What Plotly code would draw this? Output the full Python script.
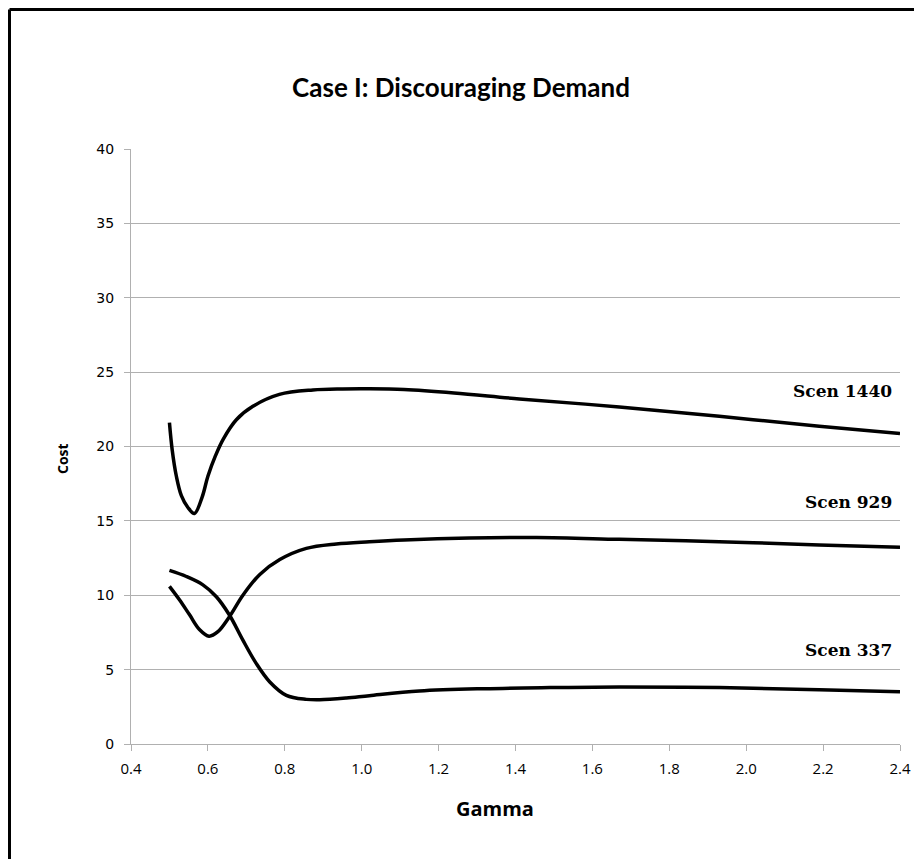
import plotly.graph_objects as go

# ---- data ----
scen1440_x = [0.50, 0.507, 0.518, 0.531, 0.548, 0.565, 0.585, 0.60, 0.62, 0.64, 0.674, 0.717, 0.786, 0.873, 0.95, 1.02, 1.11, 1.24, 1.41, 1.67, 1.93, 2.19, 2.40]
scen1440_y = [21.6, 19.8, 18.0, 16.7, 15.9, 15.5, 16.6, 18.0, 19.4, 20.5, 21.8, 22.7, 23.5, 23.8, 23.87, 23.88, 23.83, 23.6, 23.2, 22.66, 22.03, 21.36, 20.87]

scen929_x = [0.50, 0.526, 0.552, 0.578, 0.603, 0.626, 0.656, 0.691, 0.735, 0.787, 0.856, 0.934, 1.02, 1.11, 1.28, 1.455, 1.67, 1.93, 2.19, 2.40]
scen929_y = [10.6, 9.7, 8.7, 7.7, 7.25, 7.55, 8.56, 10.0, 11.4, 12.4, 13.15, 13.45, 13.6, 13.72, 13.85, 13.88, 13.76, 13.6, 13.38, 13.22]

scen337_x = [0.50, 0.544, 0.587, 0.622, 0.656, 0.691, 0.726, 0.761, 0.804, 0.856, 0.891, 0.96, 1.02, 1.15, 1.32, 1.49, 1.67, 1.93, 2.19, 2.40]
scen337_y = [11.67, 11.26, 10.7, 9.9, 8.67, 6.98, 5.4, 4.17, 3.27, 3.0, 2.97, 3.09, 3.25, 3.56, 3.72, 3.79, 3.83, 3.79, 3.65, 3.52]

series_names = ["Scen 1440", "Scen 929", "Scen 337"]
label_x = 2.384
label_y = [23.7, 16.3, 6.3]

title_text = "Case I: Discouraging Demand"
x_title = "Gamma"
y_title = "Cost"

# figure geometry (page is offset by the 8px body margin)
W, H = 914, 851
L, R, T, B = 123, 22, 141, 115
PW, PH = W - L - R, H - T - B

def px_to_paper_x(fx):
    return (fx - L) / PW

def px_to_paper_y(fy):
    return (H - B - fy) / PH

fig = go.Figure()
for name, xs, ys in zip(series_names,
                        [scen1440_x, scen929_x, scen337_x],
                        [scen1440_y, scen929_y, scen337_y]):
    fig.add_trace(go.Scatter(x=xs, y=ys, mode="lines", name=name,
                             line=dict(color="black", width=3.5, shape="spline", smoothing=1.0),
                             showlegend=False))

for name, ly in zip(series_names, label_y):
    fig.add_annotation(x=label_x, y=ly, xref="x", yref="y", text="<b>" + name + "</b>",
                       showarrow=False, xanchor="right", yanchor="middle",
                       font=dict(family="DejaVu Serif", size=17, color="black"))

# axis titles as annotations for exact placement
fig.add_annotation(x=px_to_paper_x(55), y=px_to_paper_y(451), xref="paper", yref="paper",
                   text="<b>" + y_title + "</b>", textangle=-90, showarrow=False,
                   xanchor="center", yanchor="middle",
                   font=dict(family="Open Sans", size=14, color="black"))
fig.add_annotation(x=px_to_paper_x(487), y=px_to_paper_y(800), xref="paper", yref="paper",
                   text="<b>" + x_title + "</b>", showarrow=False,
                   xanchor="center", yanchor="middle",
                   font=dict(family="Open Sans", size=20, color="black"))

grid_col = "#b0b0b0"
fig.update_layout(
    width=W, height=H,
    margin=dict(l=L, r=R, t=T, b=B),
    paper_bgcolor="white", plot_bgcolor="white",
    title=dict(text="<b>" + title_text + "</b>", x=453 / W, xanchor="center",
               y=1 - 80 / H, yanchor="middle",
               font=dict(family="Lato", size=26, color="black")),
    xaxis=dict(range=[0.4, 2.4], dtick=0.2, tick0=0.4, tickformat=".1f",
               showgrid=False, showline=True, linecolor=grid_col, linewidth=1,
               ticks="outside", ticklen=6, tickcolor=grid_col, ticklabelstandoff=5,
               tickfont=dict(family="Open Sans", size=15, color="black"),
               zeroline=False),
    yaxis=dict(range=[0, 40], dtick=5, showgrid=True, gridcolor=grid_col, gridwidth=1,
               showline=True, linecolor=grid_col, linewidth=1,
               ticks="outside", ticklen=6, tickcolor=grid_col, ticklabelstandoff=7,
               tickfont=dict(family="DejaVu Sans", size=14, color="black"),
               zeroline=False),
)

# outer frame (top and left edges visible in the reference)
fx0, fy0 = px_to_paper_x(1.5), px_to_paper_y(1.5)
fig.add_shape(type="line", xref="paper", yref="paper",
              x0=fx0, x1=px_to_paper_x(W + 5), y0=fy0, y1=fy0,
              line=dict(color="black", width=3))
fig.add_shape(type="line", xref="paper", yref="paper",
              x0=fx0, x1=fx0, y0=fy0, y1=px_to_paper_y(H + 5),
              line=dict(color="black", width=3))

fig.write_html("out.html")
